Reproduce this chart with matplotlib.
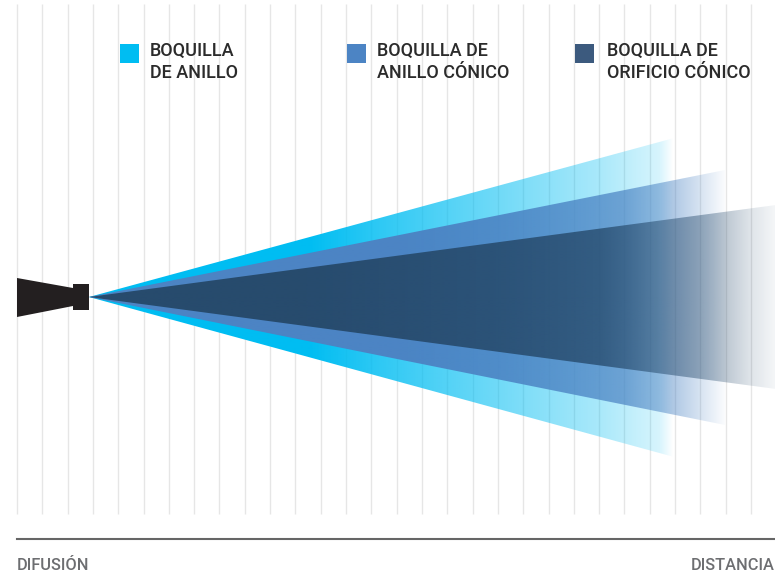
import numpy as np
import matplotlib
matplotlib.use("Agg")
import matplotlib.pyplot as plt
from matplotlib.colors import to_rgb
from matplotlib.patches import Polygon, Rectangle

# legend
labels = ["BOQUILLA\nDE ANILLO", "BOQUILLA DE\nANILLO CÓNICO", "BOQUILLA DE\nORIFICIO CÓNICO"]
colors = ["#00BDF2", "#4C84C4", "#3C5A7E"]
legend_x = [120, 347, 575]
text_x = [150, 377, 607]

# cones, back to front
cone_colors = ["#00BDF2", "#4C84C4", "#274B6D"]
cone_end = [674, 725, 776]
cone_top = [138, 170, 205]
cone_bottom = [457, 425, 389]

# opacity along x
fade_x = [[310, 380, 500, 600, 660, 674],
          [400, 500, 625, 675, 700, 725],
          [300, 500, 600, 660, 700, 726, 751, 776]]
fade_alpha = [[1, .82, .56, .34, .16, 0],
              [1, .9, .71, .44, .23, .03],
              [1, .88, .79, .52, .43, .31, .15, .05]]

apex = (89, 297)
grid_x = np.linspace(17, 751, 30)

fig = plt.figure(figsize=(7.75, 5.76), dpi=100)
ax = fig.add_axes([0, 0, 1, 1])

for i in range(3):
    end = cone_end[i]
    top = cone_top[i]
    bottom = cone_bottom[i]
    xs = np.arange(apex[0], end + 1)
    rgba = np.zeros((1, len(xs), 4))
    rgba[..., :3] = to_rgb(cone_colors[i])
    rgba[..., 3] = np.interp(xs, fade_x[i], fade_alpha[i])
    im = ax.imshow(rgba, extent=(apex[0], end, bottom, top), aspect="auto", zorder=2, interpolation="bilinear")
    im.set_clip_path(Polygon([apex, (end, top), (end, bottom)], transform=ax.transData))

ax.set_xlim(0, 775)
ax.set_ylim(576, 0)
ax.axis("off")

# grid sits behind the cones, it only shows through the faded part
ax.vlines(grid_x, 4, 514, color="#E6E6E6", lw=1.0, zorder=1)

# nozzle
ax.add_patch(Polygon([(17, 278), (73, 288), (73, 306), (17, 317)], color="#231F20", lw=0, zorder=4))
ax.add_patch(Rectangle((73, 284), 16, 26, color="#231F20", lw=0, zorder=4))

for lx, tx, col, lab in zip(legend_x, text_x, colors, labels):
    ax.add_patch(Rectangle((lx, 44), 19, 19, color=col, lw=0, zorder=4))
    ax.text(tx, 62, lab, family="Roboto", weight="medium", fontsize=13, color="#2B2B2B",
            va="center", ha="left", linespacing=1.34, zorder=5)

ax.plot([17, 775], [539, 539], color="#666666", lw=1.5, zorder=3)
ax.text(17, 566, "DIFUSIÓN", family="Roboto", weight="medium", fontsize=11.8, color="#6D6E71", va="center", ha="left")
ax.text(775, 566, "DISTANCIA", family="Roboto", weight="medium", fontsize=11.8, color="#6D6E71", va="center", ha="right")

fig.savefig("out.png", dpi=100)
